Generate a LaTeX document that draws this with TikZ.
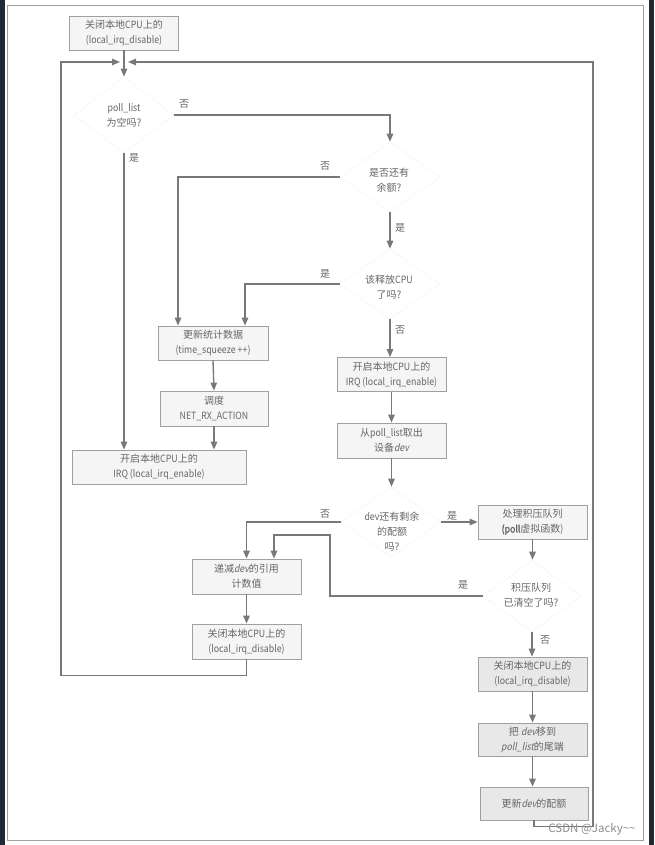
\documentclass[tikz,border=0pt]{standalone}
\usepackage{fontspec}
\setmainfont{Noto Sans CJK SC}
\newfontfamily\lat[FakeStretch=0.88]{Noto Sans CJK SC}
\newfontfamily\latit[FakeStretch=0.88,FakeSlant=0.2]{Noto Sans CJK SC}
\newfontfamily\latbf[FakeStretch=0.88,FakeBold=1.5]{Noto Sans CJK SC}
\usetikzlibrary{arrows.meta,shapes.geometric}
\definecolor{lc}{HTML}{787878}
\definecolor{tc}{HTML}{666666}
\definecolor{bc}{HTML}{A0A0A0}
\definecolor{bf}{HTML}{F5F5F5}
\definecolor{bfs}{HTML}{E8E8E8}
\definecolor{dc}{HTML}{F6F6F6}
\definecolor{edge}{HTML}{1F2A36}
\newcommand\fsz{\fontsize{10pt}{15pt}\selectfont}
\newcommand\lsz{\fontsize{10pt}{12pt}\selectfont}
\newcommand\devit{{\latit dev}}
\tikzset{
  ln/.style={draw=lc, line width=1.35pt},
  arr/.style={ln, -{Triangle[length=8pt,width=6.5pt]}},
  box/.style={draw=bc, fill=bf, line width=0.8pt, minimum width=109pt, minimum height=34pt,
    inner sep=0pt, align=center, text=tc, font=\fsz},
  sbox/.style={box, fill=bfs},
  dia/.style={diamond, draw=dc, fill=white, line width=0.6pt, minimum width=100pt, minimum height=72pt, inner sep=0pt},
  txt/.style={align=center, text=tc, font=\fsz, inner sep=0pt},
  lab/.style={text=tc, font=\lsz, inner sep=0pt},
}
\begin{document}
\begin{tikzpicture}[x=1pt,y=-1pt]
\useasboundingbox (0,0) rectangle (654,845);
\fill[white] (0,0) rectangle (654,845);
\fill[edge] (0,0) rectangle (5,845);
\fill[edge] (649,0) rectangle (654,845);
\draw[gray!75, line width=0.8pt] (7,5) rectangle (643,840);

% boxes
\node[box] (top) at (124,33) {关闭本地{\lat CPU}上的\\{\lat (local\_irq\_disable)}};
\node[box, minimum width=110pt] (stat) at (213,343) {更新统计数据\\{\lat (time\_squeeze ++)}};
\node[box, minimum width=108pt, minimum height=35pt] (sched) at (214,408.5) {调度\\{\lat NET\_RX\_ACTION}};
\node[box, minimum width=174pt] (en1) at (159,467) {开启本地{\lat CPU}上的\\{\lat IRQ (local\_irq\_enable)}};
\node[box] (en2) at (391.5,374.5) {开启本地{\lat CPU}上的\\{\lat IRQ (local\_irq\_enable)}};
\node[box, minimum height=35pt] (get) at (391.5,440.5) {从{\lat poll\_list}取出\\设备\devit};
\node[box] (proc) at (532.5,522) {处理积压队列\\{\latbf (poll}虚拟函数{\lat )}};
\node[box, minimum height=35pt] (dec) at (246.5,576.5) {递减\devit 的引用\\计数值};
\node[box, minimum height=35pt] (dis1) at (246.5,641.5) {关闭本地{\lat CPU}上的\\{\lat (local\_irq\_disable)}};
\node[sbox] (dis2) at (532.5,674) {关闭本地{\lat CPU}上的\\{\lat (local\_irq\_disable)}};
\node[sbox, minimum height=33pt] (move) at (532.5,739.5) {把 \devit 移到\\{\latit poll\_list}的尾端};
\node[sbox, minimum width=108pt, minimum height=33pt] (upd) at (534,803.5) {更新\devit 的配额};

% diamonds
\node[dia, minimum height=76pt] (d1) at (124,115) {};
\node[txt] at (124,115) {{\lat poll\_list}\\为空吗?};
\node[dia, minimum height=70pt] (d2) at (390,177) {};
\node[txt] at (389,180) {是否还有\\余额?};
\node[dia, minimum height=70pt] (d3) at (390,284) {};
\node[txt] at (389,287) {该释放{\lat CPU}\\了吗?};
\node[dia, minimum height=70pt] (d4) at (391,522) {};
\node[txt] at (392,532) {{\lat dev}还有剩余\\的配额\\吗?};
\node[dia, minimum width=98pt, minimum height=72pt] (d5) at (532,596) {};
\node[txt] at (531,595.5) {积压队列\\已清空了吗?};

% junction points
\coordinate (lj) at (120,62);
\coordinate (rj) at (128,62);
\coordinate (lc) at (61,62);
\coordinate (rc) at (593,62);
\coordinate (bk) at (330,535);

% connectors
\draw[arr] (top.south) -- (d1.north);
\draw[arr] (dis1.south) -- ++(0,16) -| (lc) -- (lj);
\draw[arr] (upd.south) -- ++(0,6) -| (rc) -- (rj);
\draw[arr] (d1.east) -| (d2.north);
\draw[arr] (d1.south) -- (d1.south |- en1.north);
\draw[arr] (d2.west) -| ([xshift=-35pt]stat.north);
\draw[arr] (d2.south) -- (d3.north);
\draw[arr] (d3.west) -| ([xshift=32pt]stat.north);
\draw[arr] (d3.south) -- (d3.south |- en2.north);
\draw[arr] (stat.south) -- (sched.north);
\draw[arr] (sched.south) -- (sched.south |- en1.north);
\draw[arr] (en2.south) -- (get.north);
\draw[arr] (get.south) -- (get.south |- d4.north);
\draw[arr] (d4.east) -- (proc.west);
\draw[arr] (d4.west) -| (dec.north);
\draw[arr] (proc.south) -- (proc.south |- d5.north);
\draw[arr] (d5.west) -| (bk) -| ([xshift=27.5pt]dec.north);
\draw[arr] (d5.south) -- (d5.south |- dis2.north);
\draw[arr] (dec.south) -- (dis1.north);
\draw[arr] (dis2.south) -- (dis2.south |- move.north);
\draw[arr] (move.south) -- (move.south |- upd.north);

% labels
\node[lab] at (184,104) {否};
\node[lab] at (134,158) {是};
\node[lab] at (325,166) {否};
\node[lab] at (400,228) {是};
\node[lab] at (325,274) {是};
\node[lab] at (400,330) {否};
\node[lab] at (325,514) {否};
\node[lab] at (452,516) {是};
\node[lab] at (463,585) {是};
\node[lab] at (545,640) {否};

\node[text=gray!90, font=\fontsize{11.5pt}{12pt}\selectfont, inner sep=0pt] (wm) at (592,829) {CSDN @Jacky\textasciitilde\textasciitilde};
\end{tikzpicture}
\end{document}
